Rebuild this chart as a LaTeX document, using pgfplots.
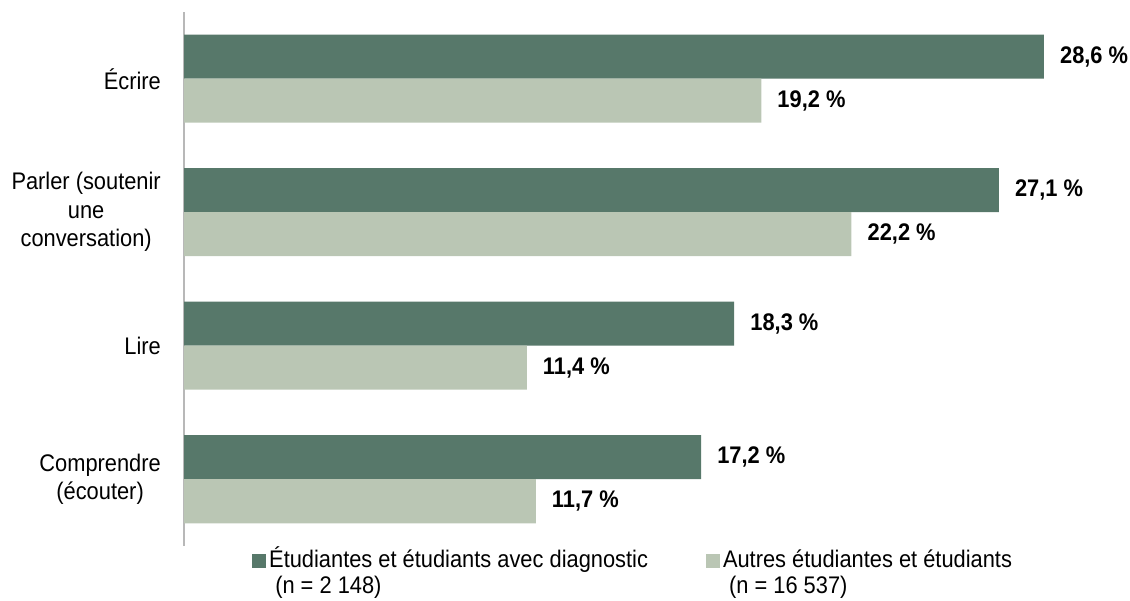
\documentclass[border=0pt]{standalone}
\usepackage{pgfplots}
\pgfplotsset{compat=1.18}
\usepackage{fontspec}
\setmainfont{Liberation Sans}[FakeStretch=0.91]
\definecolor{dark}{RGB}{87,120,106}
\definecolor{light}{RGB}{186,198,180}
\begin{document}
\begin{tikzpicture}
\begin{axis}[
  at={(184bp,55bp)}, anchor=south west,
  scale only axis, width=902bp, height=534bp,
  xbar, bar width=44bp,
  xmin=0, xmax=30, ymin=-0.5, ymax=3.5,
  axis x line=none, axis y line*=left,
  axis line style={draw=black!28, line width=1.5bp},
  ytick={0,1,2,3}, major tick length=0pt,
  yticklabels={{Comprendre\\(écouter)},{Lire},{Parler (soutenir\\une\\conversation)},{Écrire}},
  yticklabel style={align=center, font=\fontsize{24bp}{28.5bp}\selectfont, inner sep=0pt, xshift=-23bp},
  nodes near coords={\pgfmathprintnumber[fixed,fixed zerofill,precision=1,use comma,assume math mode=true]{\pgfplotspointmeta}~\%},
  nodes near coords style={font=\fontsize{24bp}{28bp}\selectfont\bfseries, anchor=west, inner sep=0pt, xshift=16bp},
  clip=false,
  legend columns=2,
  legend cell align=left,
  legend image code/.code={\fill[#1,draw=none] (0bp,-7bp) rectangle (14bp,7bp);},
  legend style={at={(0.0754,-0.0056)}, anchor=north west, draw=none, fill=none, inner sep=0pt,
    font=\fontsize{24bp}{28bp}\selectfont,
    nodes={inner sep=0pt, text height=18bp, text depth=6bp},
    row sep=2bp,
    /tikz/every odd column/.append style={column sep=3bp},
    /tikz/every even column/.append style={column sep=58bp}},
]
\addplot[fill=dark, draw=none, bar shift=22bp] coordinates {(28.6,3) (27.1,2) (18.3,1) (17.2,0)};
\addlegendentry{Étudiantes et étudiants avec diagnostic}
\addplot[fill=light, draw=none, bar shift=-22bp] coordinates {(19.2,3) (22.2,2) (11.4,1) (11.7,0)};
\addlegendentry{Autres étudiantes et étudiants}
\addlegendimage{empty legend}
\addlegendentry{\ (n = 2~148)}
\addlegendimage{empty legend}
\addlegendentry{\ (n = 16~537)}
\end{axis}
\pgfresetboundingbox
\useasboundingbox (0,0) rectangle (1130bp,601bp);
\end{tikzpicture}
\end{document}
